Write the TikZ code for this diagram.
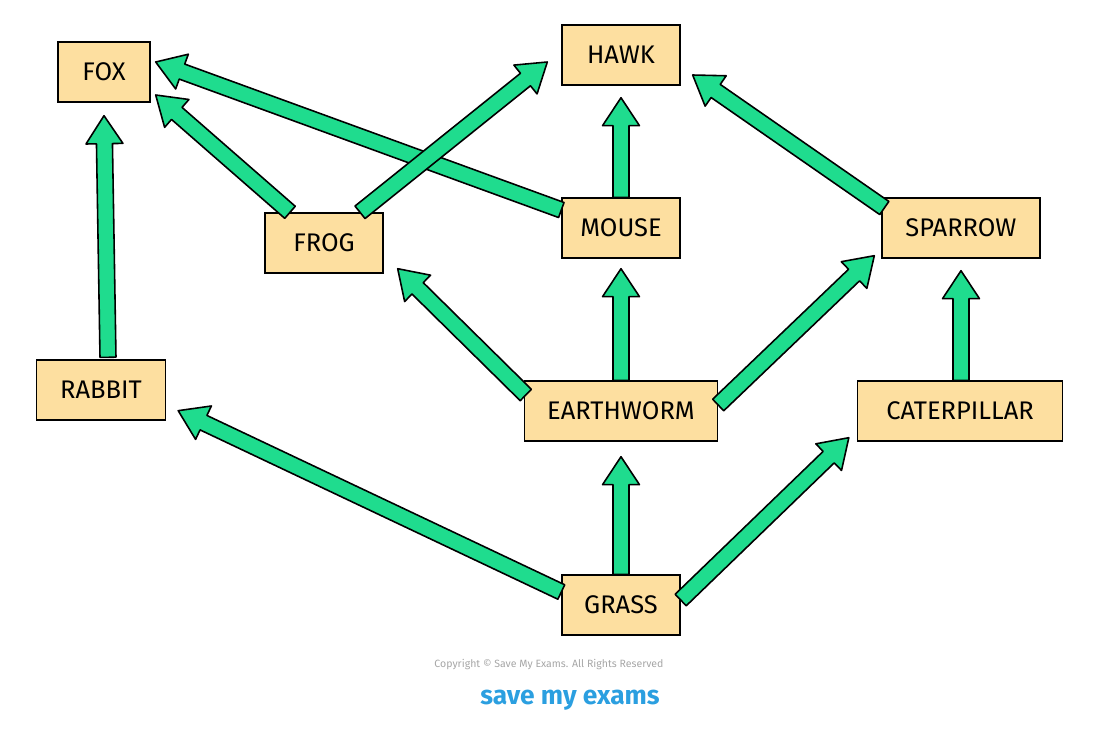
\documentclass[tikz,border=0pt]{standalone}
\usepackage{fontspec}
\setmainfont{Fira Sans}
\usetikzlibrary{calc}
\definecolor{boxfill}{HTML}{FDDFA0}
\definecolor{feedgreen}{HTML}{1FDC8E}
\definecolor{smeblue}{HTML}{2B9FE0}
\tikzset{
    organism/.style={draw=black, fill=boxfill, line width=0.8pt, minimum height=1.2cm,
        inner sep=0pt, font=\fontsize{14.5}{16}\selectfont},
    feed/.style={draw=black, fill=feedgreen, line width=0.9pt, line join=round},
}
% arrow from coordinate #1 to coordinate #2
\newcommand\FeedArrow[2]{%
    \coordinate (B) at ($(#2)!0.56cm!(#1)$);
    \draw[feed] ($(#1)!0.16cm!90:(#2)$) -- ($(B)!0.16cm!-90:(#1)$)
        -- ($(B)!0.37cm!-90:(#1)$) -- (#2) -- ($(B)!0.37cm!90:(#1)$)
        -- ($(B)!0.16cm!90:(#1)$) -- ($(#1)!0.16cm!-90:(#2)$) -- cycle;
}

\begin{document}
\begin{tikzpicture}[x=0.02cm, y=-0.02cm]
    \useasboundingbox (0,0) rectangle (1100,737);
    % organisms
    \node[organism, minimum width=1.84cm] (fox) at (104,72) {FOX};
    \node[organism, minimum width=2.36cm] (hawk) at (621,55) {HAWK};
    \node[organism, minimum width=2.36cm] (frog) at (324,243) {FROG};
    \node[organism, minimum width=2.36cm] (mouse) at (621,228) {MOUSE};
    \node[organism, minimum width=3.16cm] (sparrow) at (961,228) {SPARROW};
    \node[organism, minimum width=2.58cm] (rabbit) at (101,390) {RABBIT};
    \node[organism, minimum width=3.86cm] (worm) at (621,411) {EARTHWORM};
    \node[organism, minimum width=4.10cm] (cat) at (960,411) {CATERPILLAR};
    \node[organism, minimum width=2.36cm] (grass) at (621,605) {GRASS};
    % arrow ends
    \coordinate (rabbitS) at ($(rabbit.north)+(7,-2)$);
    \coordinate (rabbitE) at ($(fox.south)+(0,13)$);
    \coordinate (frogfoxS) at ($(frog.north)+(-34,0)$);
    \coordinate (frogfoxE) at ($(fox.east)+(5,23)$);
    \coordinate (mousefoxS) at ($(mouse.west)+(0,-18)$);
    \coordinate (mousefoxE) at ($(fox.east)+(5,-10)$);
    \coordinate (froghawkS) at ($(frog.north)+(36,0)$);
    \coordinate (froghawkE) at ($(hawk.west)+(-14,7)$);
    \coordinate (mousehawkE) at ($(hawk.south)+(0,12)$);
    \coordinate (sparrowhawkS) at ($(sparrow.west)+(3,-20)$);
    \coordinate (sparrowhawkE) at ($(hawk.east)+(12,20)$);
    \coordinate (wormfrogS) at ($(worm.west)+(2,-16)$);
    \coordinate (wormfrogE) at ($(frog.south east)+(14,-5)$);
    \coordinate (wormmouseE) at ($(mouse.south)+(0,10)$);
    \coordinate (wormsparrowS) at ($(worm.east)+(0,-6)$);
    \coordinate (wormsparrowE) at ($(sparrow.south west)+(-7,-3)$);
    \coordinate (catS) at ($(cat.north)+(1,0)$);
    \coordinate (catE) at ($(sparrow.south)+(0,12)$);
    \coordinate (grassrabbitS) at ($(grass.west)+(0,-13)$);
    \coordinate (grassrabbitE) at ($(rabbit.south east)+(12,-10)$);
    \coordinate (grasswormE) at ($(worm.south)+(0,15)$);
    \coordinate (grasscatS) at ($(grass.east)+(0,-5)$);
    \coordinate (grasscatE) at ($(cat.south west)+(-8,-4)$);
    % feeding arrows
    \FeedArrow{rabbitS}{rabbitE}
    \FeedArrow{frogfoxS}{frogfoxE}
    \FeedArrow{mousefoxS}{mousefoxE}
    \FeedArrow{froghawkS}{froghawkE}
    \FeedArrow{mouse.north}{mousehawkE}
    \FeedArrow{sparrowhawkS}{sparrowhawkE}
    \FeedArrow{wormfrogS}{wormfrogE}
    \FeedArrow{worm.north}{wormmouseE}
    \FeedArrow{wormsparrowS}{wormsparrowE}
    \FeedArrow{catS}{catE}
    \FeedArrow{grassrabbitS}{grassrabbitE}
    \FeedArrow{grass.north}{grasswormE}
    \FeedArrow{grasscatS}{grasscatE}
    % footer
    \node[text=gray!70, font=\fontsize{6}{7}\selectfont] (copy) at (549,665) {Copyright © Save My Exams. All Rights Reserved};
    \node[text=smeblue, font=\fontsize{15}{17}\selectfont\bfseries] (brand) at (570,700) {save my exams};
\end{tikzpicture}
\end{document}
